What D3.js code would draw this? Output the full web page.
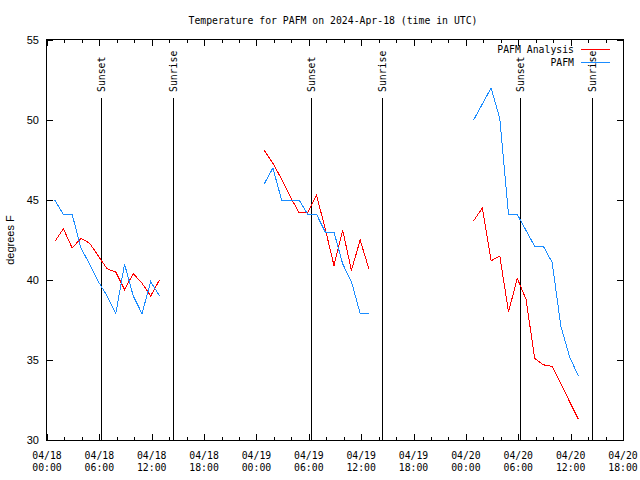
<!DOCTYPE html>
<html><head><meta charset="utf-8">
<script src="https://cdn.jsdelivr.net/npm/d3@7"></script>
<style>body{margin:0;background:#fff}svg{display:block}</style>
</head><body><svg id="c" width="640" height="480"></svg>
<script>
// ---- data ----
const obsTimes = [
  "2024-04-18T00:53Z","2024-04-18T01:53Z","2024-04-18T02:53Z","2024-04-18T03:53Z","2024-04-18T04:53Z","2024-04-18T05:53Z","2024-04-18T06:53Z","2024-04-18T07:53Z","2024-04-18T08:53Z","2024-04-18T09:53Z","2024-04-18T10:53Z","2024-04-18T11:53Z","2024-04-18T12:53Z",
  "2024-04-19T00:53Z","2024-04-19T01:53Z","2024-04-19T02:53Z","2024-04-19T03:53Z","2024-04-19T04:53Z","2024-04-19T05:53Z","2024-04-19T06:53Z","2024-04-19T07:53Z","2024-04-19T08:53Z","2024-04-19T09:53Z","2024-04-19T10:53Z","2024-04-19T11:53Z","2024-04-19T12:53Z",
  "2024-04-20T00:53Z","2024-04-20T01:53Z","2024-04-20T02:53Z","2024-04-20T03:53Z","2024-04-20T04:53Z","2024-04-20T05:53Z","2024-04-20T06:53Z","2024-04-20T07:53Z","2024-04-20T08:53Z","2024-04-20T09:53Z","2024-04-20T10:53Z","2024-04-20T11:53Z","2024-04-20T12:53Z"
];
const analysisTemps = [
  42.4, 43.2, 42.0, 42.6, 42.3, 41.5, 40.7, 40.5, 39.4, 40.4, 39.8, 39.0, 40.0,
  48.1, 47.3, 46.3, 45.2, 44.2, 44.2, 45.3, 43.2, 40.9, 43.1, 40.6, 42.5, 40.7,
  43.7, 44.5, 41.2, 41.5, 38.0, 40.1, 38.8, 35.1, 34.7, 34.6, 33.5, 32.4, 31.3
];
const obsTemps = [
  45.0, 44.1, 44.1, 42.0, 41.0, 39.9, 39.0, 37.9, 41.0, 39.0, 37.9, 39.9, 39.0,
  46.0, 47.0, 45.0, 45.0, 45.0, 44.1, 44.1, 43.0, 43.0, 41.0, 39.9, 37.9, 37.9,
  50.0, 51.0, 52.0, 50.1, 44.1, 44.1, 43.1, 42.1, 42.1, 41.1, 37.1, 35.2, 34.0
];
const sunsetTimes = ["2024-04-18T06:13Z","2024-04-19T06:18Z","2024-04-20T06:12Z"];
const sunriseTimes = ["2024-04-18T14:28Z","2024-04-19T14:23Z","2024-04-20T14:27Z"];
const xDomain = ["2024-04-18T00:00Z","2024-04-20T18:00Z"];
const yDomain = [30, 55];
const yTicks = [30, 35, 40, 45, 50, 55];
const seriesNames = ["PAFM Analysis", "PAFM"];
const seriesColors = ["#ff0000", "#1a8cff"];
const titleText = "Temperature for PAFM on 2024-Apr-18 (time in UTC)";
const yLabel = "degrees F";

// ---- chart ----
const svg = d3.select("#c");
const L = 47, R = 623, T = 40, B = 440;
const mono = "'DejaVu Sans Mono', monospace";
const sans = "'Liberation Sans', Arial, sans-serif";
const x = d3.scaleUtc().domain(xDomain.map(d => new Date(d))).range([L, R]);
const y = d3.scaleLinear().domain(yDomain).range([B, T]);

// ticks on x (every 2h, major every 6h)
const xt = d3.utcHour.every(2).range(new Date(xDomain[0]), new Date(new Date(xDomain[1]).getTime() + 1));
const tg = svg.append("g").attr("shape-rendering", "crispEdges").attr("stroke", "#000");
xt.forEach(t => {
  const major = t.getUTCHours() % 6 === 0;
  const len = major ? 6 : 3;
  const xx = Math.round(x(t)) + 0.5;
  tg.append("line").attr("x1", xx).attr("x2", xx).attr("y1", B).attr("y2", B - len);
  tg.append("line").attr("x1", xx).attr("x2", xx).attr("y1", T).attr("y2", T + len);
});
yTicks.forEach(v => {
  const yy = Math.round(y(v)) + 0.5;
  tg.append("line").attr("x1", L).attr("x2", L + 6).attr("y1", yy).attr("y2", yy);
  tg.append("line").attr("x1", R).attr("x2", R - 6).attr("y1", yy).attr("y2", yy);
});

// x tick labels
const fmtD = d3.utcFormat("%m/%d"), fmtH = d3.utcFormat("%H:%M");
xt.filter(t => t.getUTCHours() % 6 === 0).forEach(t => {
  const g = svg.append("text").attr("font-family", mono).attr("font-size", "9.8px")
    .attr("text-anchor", "middle").attr("fill", "#000");
  g.append("tspan").attr("x", x(t)).attr("y", 459).text(fmtD(t));
  g.append("tspan").attr("x", x(t)).attr("y", 471).text(fmtH(t));
});
// y tick labels
yTicks.forEach(v => {
  svg.append("text").attr("x", 39).attr("y", y(v)).attr("dy", "0.36em")
    .attr("text-anchor", "end").attr("font-family", sans).attr("font-size", "11px")
    .text(v);
});
// y label
svg.append("text").attr("transform", `translate(14,${(T + B) / 2}) rotate(-90)`)
  .attr("text-anchor", "middle").attr("font-family", sans).attr("font-size", "11px").text(yLabel);
// title
svg.append("text").attr("x", 333).attr("y", 24).attr("text-anchor", "middle")
  .attr("font-family", mono).attr("font-size", "9.8px").text(titleText);

// sunset / sunrise lines
const sun = [...sunsetTimes.map(t => ({t, n: "Sunset"})), ...sunriseTimes.map(t => ({t, n: "Sunrise"}))];
sun.forEach(s => {
  const xx = Math.round(x(new Date(s.t))) + 0.5;
  svg.append("line").attr("x1", xx).attr("x2", xx).attr("y1", 98).attr("y2", B)
    .attr("stroke", "#000").attr("shape-rendering", "crispEdges");
  svg.append("text").attr("transform", `translate(${xx},92) rotate(-90)`).attr("dy", "0.35em")
    .attr("font-family", mono).attr("font-size", "9.8px").text(s.n);
});

// data lines (break at gaps)
function segments(vals) {
  const pts = obsTimes.map((t, i) => ({t: new Date(t), v: vals[i]}));
  const segs = []; let cur = [];
  pts.forEach((p, i) => {
    if (i > 0 && p.t - pts[i - 1].t > 3 * 3600e3) { segs.push(cur); cur = []; }
    cur.push(p);
  });
  segs.push(cur);
  return segs;
}
const line = d3.line().x(d => x(d.t)).y(d => y(d.v));
[analysisTemps, obsTemps].forEach((vals, k) => {
  segments(vals).forEach(seg => {
    svg.append("path").attr("d", line(seg)).attr("fill", "none")
      .attr("stroke", seriesColors[k]).attr("stroke-width", 1)
      .attr("shape-rendering", "crispEdges");
  });
});

// frame
svg.append("rect").attr("x", L - 0.5).attr("y", T - 0.5).attr("width", R - L + 1).attr("height", B - T + 1)
  .attr("fill", "none").attr("stroke", "#000").attr("shape-rendering", "crispEdges");

// legend
seriesNames.forEach((n, i) => {
  const yy = 50 + i * 13;
  svg.append("text").attr("x", 574).attr("y", yy).attr("dy", "0.35em").attr("text-anchor", "end")
    .attr("font-family", mono).attr("font-size", "9.8px").text(n);
  svg.append("line").attr("x1", 581).attr("x2", 610).attr("y1", yy - 0.5).attr("y2", yy - 0.5)
    .attr("stroke", seriesColors[i]).attr("shape-rendering", "crispEdges");
});
</script></body></html>
